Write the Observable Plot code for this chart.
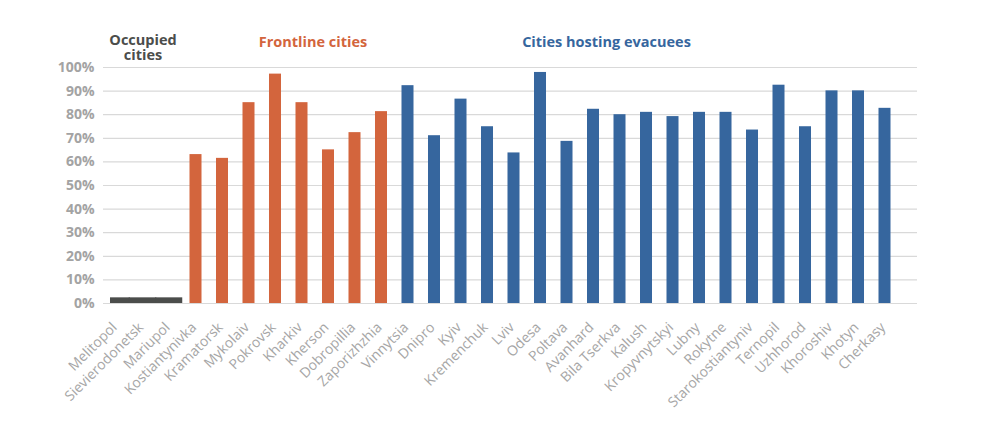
<!DOCTYPE html>
<html><head><meta charset="utf-8">
<script src="https://cdn.jsdelivr.net/npm/d3@7"></script>
<script src="https://cdn.jsdelivr.net/npm/@observablehq/plot@0.6"></script>
<style>
body{margin:0;background:#fff;}
svg{font-family:"Open Sans",sans-serif;}
g[aria-label="y-axis tick label"] text{font-weight:700;}
</style>
</head><body><div id="chart"></div>
<script>
const occupiedCities = ["Melitopol","Sievierodonetsk","Mariupol"];
const occupiedValues = [2.4,2.4,2.4];
const frontlineCities = ["Kostiantynivka","Kramatorsk","Mykolaiv","Pokrovsk","Kharkiv","Kherson","Dobropillia","Zaporizhzhia"];
const frontlineValues = [63.1,61.5,85.1,97.2,85.1,65.1,72.4,81.3];
const hostingCities = ["Vinnytsia","Dnipro","Kyiv","Kremenchuk","Lviv","Odesa","Poltava","Avanhard","Bila Tserkva","Kalush","Kropyvnytskyi","Lubny","Rokytne","Starokostiantyniv","Ternopil","Uzhhorod","Khoroshiv","Khotyn","Cherkasy"];
const hostingValues = [92.3,71.1,86.6,74.9,63.8,97.9,68.7,82.3,80.0,81.0,79.2,81.0,81.0,73.5,92.5,74.9,90.1,90.1,82.7];
const yTicks = [0,10,20,30,40,50,60,70,80,90,100];
const groupTitles = ["Occupied\ncities","Frontline cities","Cities hosting evacuees"];
const groupAnchorCities = ["Sievierodonetsk","Kharkiv","Avanhard"];

const colors = {occupied:"#4b4d4b", frontline:"#d3653d", hosting:"#36669e"};
const allCities = [...occupiedCities, ...frontlineCities, ...hostingCities];
const occupied = occupiedCities.map((c,i)=>({city:c, value:occupiedValues[i]}));
const frontline = frontlineCities.map((c,i)=>({city:c, value:frontlineValues[i]}));
const hosting = hostingCities.map((c,i)=>({city:c, value:hostingValues[i]}));
const titleColors = [colors.occupied, colors.frontline, colors.hosting];
const titleDx = [0, 11, 13];
const titleDy = [-34, -32, -32];
const titleMarks = groupTitles.map((t,i) =>
  Plot.text([{title:t, city:groupAnchorCities[i]}], {
    x: "city", frameAnchor: "top", dy: titleDy[i], dx: titleDx[i], lineAnchor: "top",
    text: "title", fill: titleColors[i], fontSize: 14.5, fontWeight: "bold", lineHeight: 1.07
  })
);

const chart = Plot.plot({
  width: 1000,
  height: 441,
  marginLeft: 103,
  marginRight: 83,
  marginTop: 67,
  marginBottom: 138,
  style: {fontFamily: "'Open Sans', sans-serif", background: "#fff"},
  x: {domain: allCities, range: [95.5, 905], padding: 0.547, round: false, label: null},
  y: {domain: [0, 100], label: null},
  marks: [
    Plot.ruleY(yTicks, {stroke: "#d9d9d9", strokeWidth: 1.2}),
    Plot.barY(occupied.slice(0,1), {x: "city", y: "value", fill: colors.occupied, insetRight: -7.8}),
    Plot.barY(occupied.slice(1,2), {x: "city", y: "value", fill: colors.occupied, insetLeft: -7.8, insetRight: -7.8}),
    Plot.barY(occupied.slice(2), {x: "city", y: "value", fill: colors.occupied, insetLeft: -7.8, insetRight: -7.25}),
    Plot.barY(frontline, {x: "city", y: "value", fill: colors.frontline}),
    Plot.barY(hosting, {x: "city", y: "value", fill: colors.hosting}),
    Plot.axisY(yTicks, {tickSize: 0, tickPadding: 9, tickFormat: d => d + "%", fontSize: 14, fontWeight: "bold", color: "#a3a3a3", label: null}),
    Plot.axisX({tickSize: 0, tickPadding: 21.5, dx: -2, tickRotate: -45, fontSize: 14, color: "#a6a6a6", label: null}),
    ...titleMarks
  ]
});
document.getElementById("chart").appendChild(chart);
</script>
</body></html>
